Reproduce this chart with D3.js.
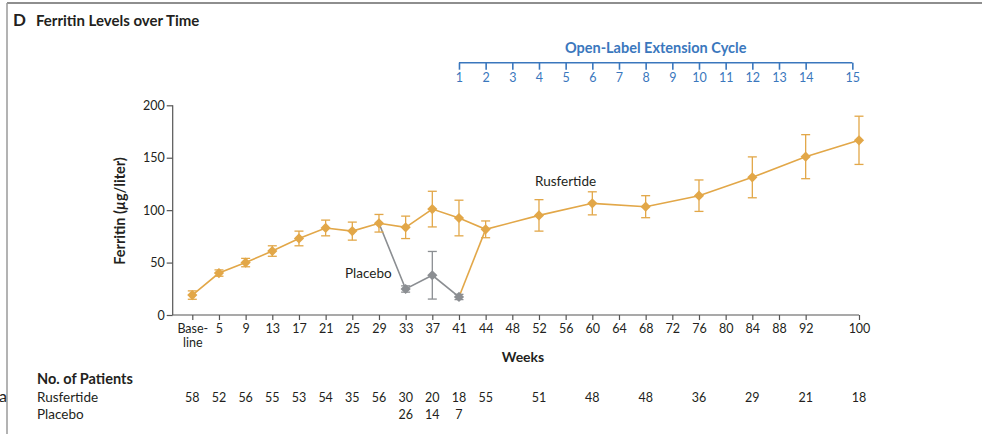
<!DOCTYPE html>
<html>
<head>
<meta charset="utf-8">
<script src="https://cdn.jsdelivr.net/npm/d3@7"></script>
<style>
  html, body { margin: 0; padding: 0; background: #fff; }
  svg { display: block; font-family: Lato, "Open Sans", sans-serif; }
</style>
</head>
<body>
<svg id="chart" width="982" height="434"></svg>
<script>
// Visit slots along the week axis ("0" = baseline; "96" keeps an empty slot before week 100)
const weekSlots = ["0","5","9","13","17","21","25","29","33","37","41","44","48","52","56","60","64","68","72","76","80","84","88","92","96","100"];
const weekTicks = ["0","5","9","13","17","21","25","29","33","37","41","44","48","52","56","60","64","68","72","76","80","84","88","92","100"];
const yTicks = [0, 50, 100, 150, 200];

// Rusfertide: mean ferritin (µg/liter) and error
const rusWeeks = ["0","5","9","13","17","21","25","29","33","37","41","44","52","60","68","76","84","92","100"];
const rusMean  = [19, 40, 50, 61, 73, 83, 80, 87.5, 83.6, 101, 92.5, 81.7, 95, 106.5, 103.3, 113.8, 131.3, 151, 166.6];
const rusErr   = [4, 3, 4, 5, 7, 7.5, 8.6, 8.4, 10.7, 17, 17, 8, 15, 11, 10.5, 15, 19.5, 21, 23];

// Placebo arm (withdrawal phase), branching from week 29
const plaWeeks = ["33","37","41"];
const plaMean  = [24.8, 37.9, 17.2];
const plaErr   = [3, 22.7, 2.5];

// Open-label extension cycles
const cycles = [1,2,3,4,5,6,7,8,9,10,11,12,13,14,15];

// Number of patients at each visit
const nRusWeeks = ["0","5","9","13","17","21","25","29","33","37","41","44","52","60","68","76","84","92","100"];
const nRus      = [58, 52, 56, 55, 53, 54, 35, 56, 30, 20, 18, 55, 51, 48, 48, 36, 29, 21, 18];
const nPlaWeeks = ["33","37","41"];
const nPla      = [26, 14, 7];

const ORANGE = "#e2a748";
const GRAY = "#8b8e92";
const BLUE = "#3a77bd";
const TEXT = "#231f20";
const FONT = "Lato, sans-serif";

const svg = d3.select("#chart");

// frame of the panel
svg.append("line").attr("x1", 7).attr("x2", 982).attr("y1", 3).attr("y2", 3)
  .attr("stroke", "#8e8e8e").attr("stroke-width", 2);
svg.append("line").attr("x1", 7).attr("x2", 7).attr("y1", 3).attr("y2", 434)
  .attr("stroke", "#9a9a9a").attr("stroke-width", 1.5);
svg.append("text").attr("x", -1).attr("y", 402).attr("font-size", 16).attr("fill", TEXT).text("a");

// title
svg.append("text").attr("x", 13).attr("y", 26).attr("font-size", 17).attr("font-weight", 700)
  .attr("fill", TEXT).text("D");
svg.append("text").attr("x", 36).attr("y", 26).attr("font-size", 15).attr("font-weight", 700)
  .attr("fill", TEXT).text("Ferritin Levels over Time");

const x = d3.scalePoint().domain(weekSlots).range([192.3, 859]).padding(0);
const y = d3.scaleLinear().domain([0, 200]).range([315, 105.3]);
const axisX0 = 172.7;

// y axis
const gy = svg.append("g").attr("transform", `translate(${axisX0},0)`)
  .call(d3.axisLeft(y).tickValues(yTicks).tickSize(6).tickPadding(2));
gy.select(".domain").remove();
gy.append("line").attr("x1", 0).attr("x2", 0).attr("y1", y(200)).attr("y2", y(0))
  .attr("stroke", "#555").attr("stroke-width", 1.2);
gy.selectAll(".tick line").attr("stroke", "#555").attr("stroke-width", 1.2);
gy.selectAll(".tick text").attr("font-size", 12.5).attr("fill", TEXT).attr("font-family", FONT);

// x axis
const gx = svg.append("g").attr("transform", `translate(0,${y(0)})`)
  .call(d3.axisBottom(x).tickValues(weekTicks).tickSize(5).tickPadding(4).tickFormat(d => d === "0" ? "" : d));
gx.select(".domain").remove();
gx.append("line").attr("x1", axisX0).attr("x2", x("100")).attr("y1", 0).attr("y2", 0)
  .attr("stroke", "#555").attr("stroke-width", 1.2);
gx.selectAll(".tick line").attr("stroke", "#555").attr("stroke-width", 1.2);
gx.selectAll(".tick text").attr("font-size", 12.5).attr("fill", TEXT).attr("font-family", FONT);
const baseTick = gx.selectAll(".tick").filter(d => d === "0").select("text");
baseTick.append("tspan").attr("x", 0).text("Base-");
baseTick.append("tspan").attr("x", 0).attr("dy", "1.12em").text("line");

// axis titles
svg.append("text").attr("transform", `translate(125,211) rotate(-90)`).attr("text-anchor", "middle")
  .attr("font-size", 14.5).attr("font-weight", 700).attr("fill", TEXT)
  .html('Ferritin (<tspan font-style="italic">µ</tspan>g/liter)');
svg.append("text").attr("x", 523).attr("y", 362).attr("text-anchor", "middle")
  .attr("font-size", 14).attr("font-weight", 700).attr("fill", TEXT).text("Weeks");

// open-label extension cycle axis
const cyc = d3.scaleLinear().domain([1, 14, 15])
  .range([x("41"), x("92"), x("92") + 1.75 * x.step()]);
const cy = 62.7;
const gc = svg.append("g").attr("transform", `translate(0,${cy})`)
  .call(d3.axisBottom(cyc).tickValues(cycles).tickSize(7).tickPadding(3).tickFormat(d3.format("d")));
gc.select(".domain").remove();
gc.append("line").attr("x1", cyc(1)).attr("x2", cyc(15)).attr("stroke", BLUE).attr("stroke-width", 1.6);
gc.selectAll(".tick line").attr("stroke", BLUE).attr("stroke-width", 1.6);
gc.selectAll(".tick text").attr("font-size", 12.5).attr("fill", BLUE).attr("font-family", FONT);
svg.append("text").attr("x", (cyc(1) + cyc(15)) / 2).attr("y", 53).attr("text-anchor", "middle")
  .attr("font-size", 14.5).attr("font-weight", 700).attr("fill", BLUE).text("Open-Label Extension Cycle");

// data series
const rus = rusWeeks.map((w, i) => ({ w, m: rusMean[i], e: rusErr[i] }));
const pla = plaWeeks.map((w, i) => ({ w, m: plaMean[i], e: plaErr[i] }));
const line = d3.line().x(d => x(d.w)).y(d => y(d.m));
const branch = rus.find(d => d.w === "29");
const rejoin = rus.find(d => d.w === "44");

const plot = svg.append("g");
// placebo branch and crossover back to rusfertide
plot.append("path").datum([branch, ...pla]).attr("d", line)
  .attr("fill", "none").attr("stroke", GRAY).attr("stroke-width", 1.6);
plot.append("path").datum([pla[pla.length - 1], rejoin]).attr("d", line)
  .attr("fill", "none").attr("stroke", ORANGE).attr("stroke-width", 1.6);
plot.append("path").datum(rus).attr("d", line)
  .attr("fill", "none").attr("stroke", ORANGE).attr("stroke-width", 1.6);

function errorBars(data, color) {
  const g = plot.append("g").attr("stroke", color).attr("stroke-width", 1.3);
  const cap = 4.5;
  data.forEach(d => {
    const cx = x(d.w), y1 = y(d.m - d.e), y2 = y(d.m + d.e);
    g.append("line").attr("x1", cx).attr("x2", cx).attr("y1", y1).attr("y2", y2);
    g.append("line").attr("x1", cx - cap).attr("x2", cx + cap).attr("y1", y1).attr("y2", y1);
    g.append("line").attr("x1", cx - cap).attr("x2", cx + cap).attr("y1", y2).attr("y2", y2);
  });
}
errorBars(rus, ORANGE);
errorBars(pla, GRAY);

const diamond = d3.symbol().type(d3.symbolSquare).size(52);
function markers(data, color) {
  plot.append("g").selectAll("path").data(data).join("path")
    .attr("d", diamond)
    .attr("transform", d => `translate(${x(d.w)},${y(d.m)}) rotate(45)`)
    .attr("fill", color);
}
markers(rus, ORANGE);
markers(pla, GRAY);

// series labels
svg.append("text").attr("x", 535).attr("y", 186).attr("font-size", 13.5).attr("fill", TEXT).text("Rusfertide");
svg.append("text").attr("x", 345).attr("y", 278).attr("font-size", 13.5).attr("fill", TEXT).text("Placebo");

// number of patients table
svg.append("text").attr("x", 37).attr("y", 384).attr("font-size", 14.5).attr("font-weight", 700)
  .attr("fill", TEXT).text("No. of Patients");
svg.append("text").attr("x", 37).attr("y", 402).attr("font-size", 13.5).attr("fill", TEXT).text("Rusfertide");
svg.append("text").attr("x", 37).attr("y", 419).attr("font-size", 13.5).attr("fill", TEXT).text("Placebo");
svg.append("g").selectAll("text").data(nRusWeeks.map((w, i) => ({ w, n: nRus[i] }))).join("text")
  .attr("x", d => x(d.w)).attr("y", 402).attr("text-anchor", "middle")
  .attr("font-size", 12.5).attr("fill", TEXT).text(d => d.n);
svg.append("g").selectAll("text").data(nPlaWeeks.map((w, i) => ({ w, n: nPla[i] }))).join("text")
  .attr("x", d => x(d.w)).attr("y", 419).attr("text-anchor", "middle")
  .attr("font-size", 12.5).attr("fill", TEXT).text(d => d.n);
</script>
</body>
</html>
